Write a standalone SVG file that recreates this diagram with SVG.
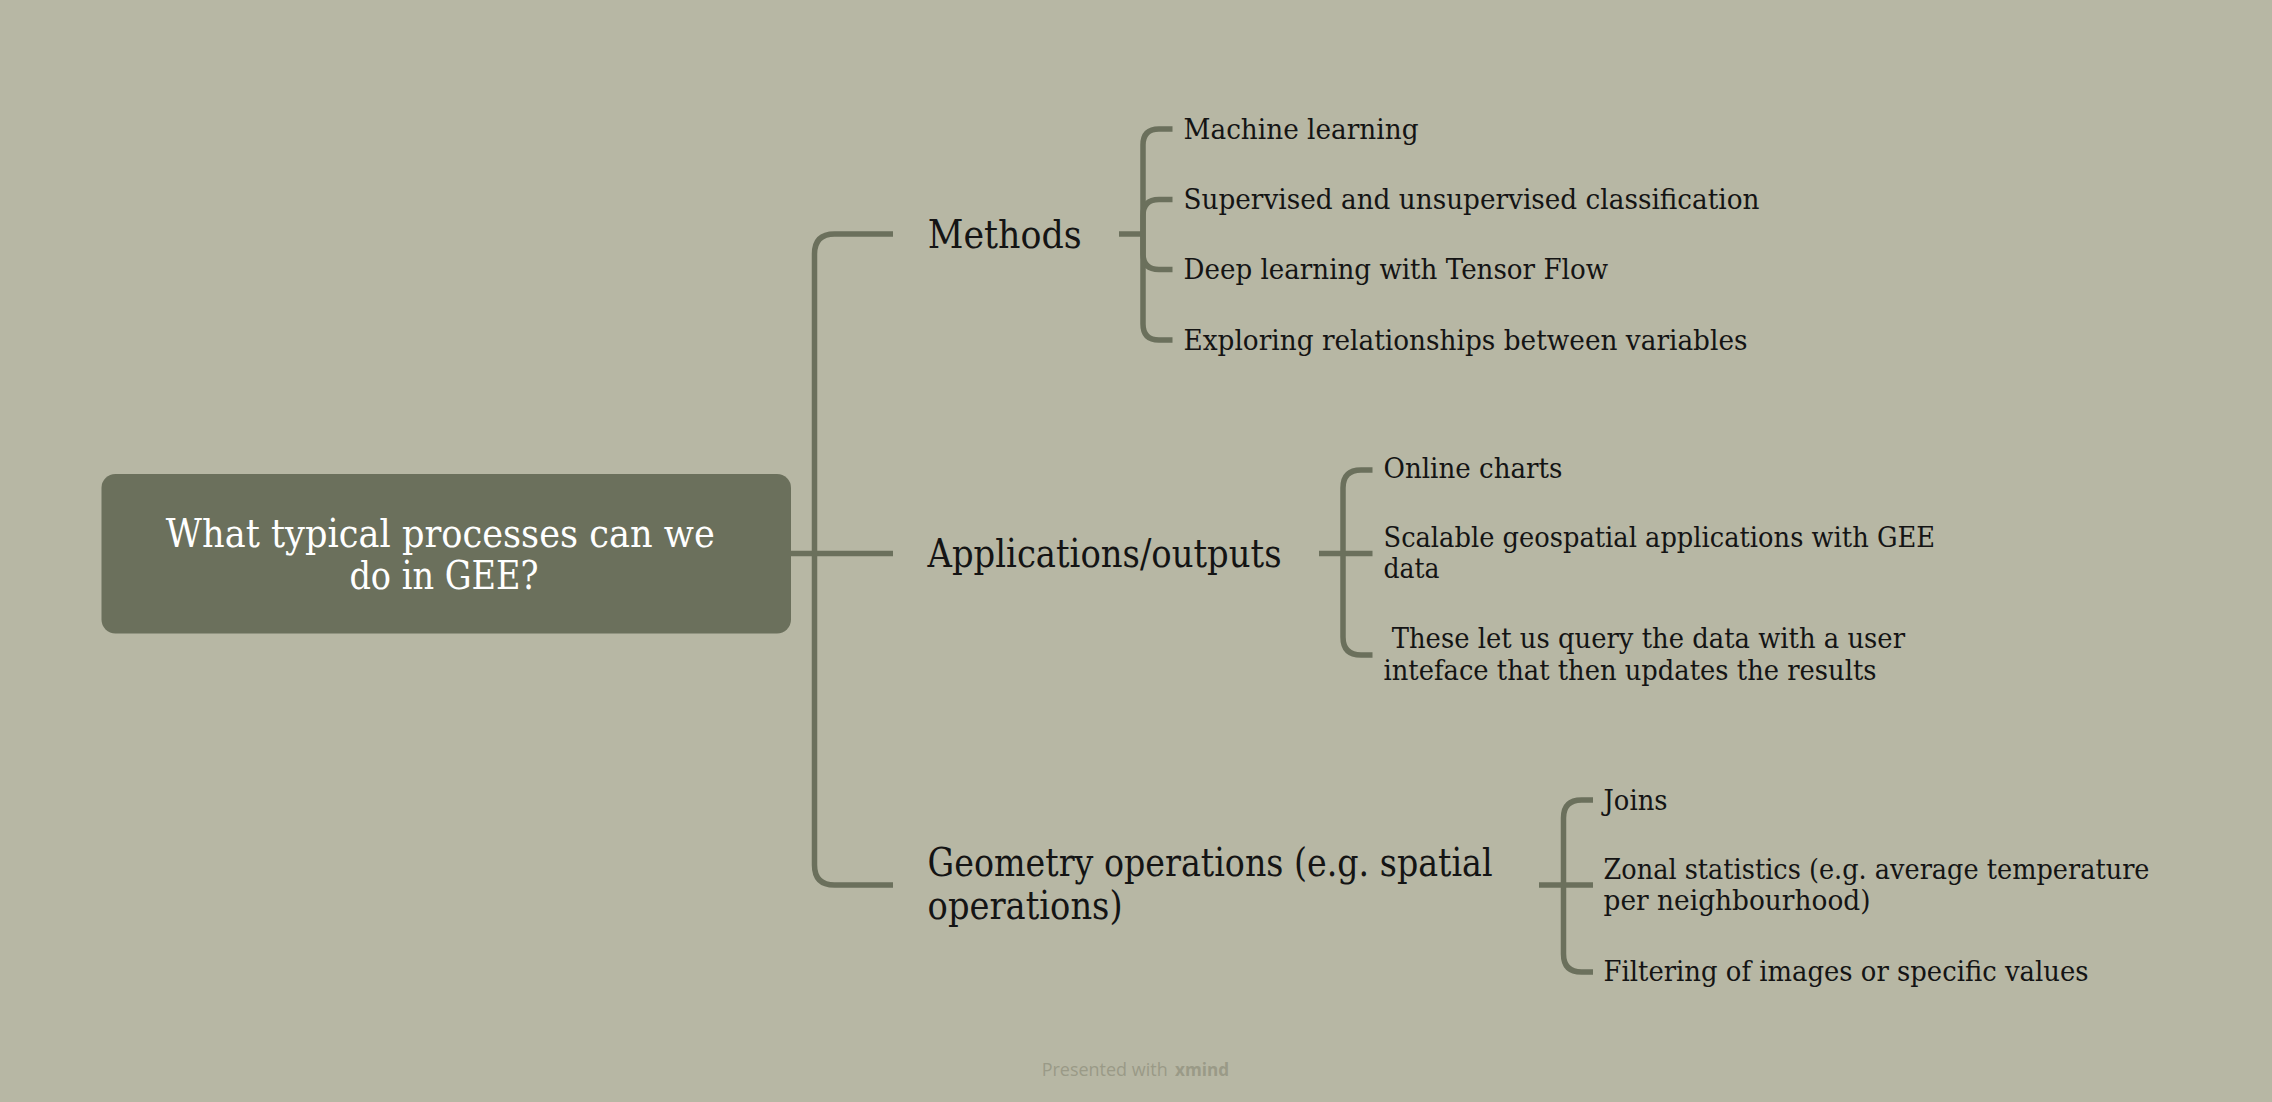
<svg xmlns="http://www.w3.org/2000/svg" width="2272" height="1102" viewBox="0 0 2272 1102">
<style>
.bg{fill:#b7b7a4}
.conn path{fill:none;stroke:#6b705c;stroke-width:5.5;stroke-linecap:butt;stroke-linejoin:round}
.t{font-family:"DejaVu Serif","Liberation Serif",serif;fill:#141414}
.main{font-size:38.5px}
.sub{font-size:28px}
.central-box{fill:#6b705c}
.central-text{font-family:"DejaVu Serif","Liberation Serif",serif;font-size:38.5px;fill:#ffffff}
.footer{font-family:"Open Sans","Liberation Sans",sans-serif;font-size:18px;fill:#9a9a87}
</style>
<rect class="bg" x="0" y="0" width="2272" height="1102"/>

<g id="connectors" class="conn">
  <!-- central to main topics -->
  <path d="M 791 553.5 H 893"/>
  <path d="M 814.5 553.5 V 254 Q 814.5 234 834.5 234 H 893"/>
  <path d="M 814.5 553.5 V 865 Q 814.5 885 834.5 885 H 893"/>
  <!-- Methods -->
  <path d="M 1119 234 H 1143"/>
  <path d="M 1143 234 V 145 Q 1143 129 1159 129 H 1172.5"/>
  <path d="M 1143 234 V 215.5 Q 1143 199.5 1159 199.5 H 1172.5"/>
  <path d="M 1143 234 V 253.5 Q 1143 269.5 1159 269.5 H 1172.5"/>
  <path d="M 1143 234 V 324 Q 1143 340 1159 340 H 1172.5"/>
  <!-- Applications -->
  <path d="M 1319 553.5 H 1372.5"/>
  <path d="M 1343 553.5 V 488 Q 1343 470 1361 470 H 1372.5"/>
  <path d="M 1343 553.5 V 637 Q 1343 655 1361 655 H 1372.5"/>
  <!-- Geometry -->
  <path d="M 1539 885 H 1593"/>
  <path d="M 1563.5 885 V 818 Q 1563.5 800 1581.5 800 H 1593"/>
  <path d="M 1563.5 885 V 954 Q 1563.5 972 1581.5 972 H 1593"/>
</g>

<g id="central">
  <rect class="central-box" x="101.5" y="474" width="689.5" height="159.5" rx="14" ry="14"/>
  <text class="central-text" x="165.8" y="547" textLength="549" lengthAdjust="spacingAndGlyphs">What typical processes can we</text>
  <text class="central-text" x="349.4" y="589" textLength="189" lengthAdjust="spacingAndGlyphs">do in GEE?</text>
</g>

<g id="methods">
  <text class="t main" x="927.7" y="248" textLength="154" lengthAdjust="spacingAndGlyphs">Methods</text>
</g>
<g id="machine-learning">
  <text class="t sub" x="1183.5" y="139" textLength="235" lengthAdjust="spacingAndGlyphs">Machine learning</text>
</g>
<g id="classification">
  <text class="t sub" x="1183.5" y="209" textLength="576" lengthAdjust="spacingAndGlyphs">Supervised and unsupervised classification</text>
</g>
<g id="deep-learning">
  <text class="t sub" x="1183.5" y="279" textLength="424.5" lengthAdjust="spacingAndGlyphs">Deep learning with Tensor Flow</text>
</g>
<g id="exploring">
  <text class="t sub" x="1183.5" y="349.5" textLength="564" lengthAdjust="spacingAndGlyphs">Exploring relationships between variables</text>
</g>

<g id="applications">
  <text class="t main" x="927.5" y="566.5" textLength="354" lengthAdjust="spacingAndGlyphs">Applications/outputs</text>
</g>
<g id="online-charts">
  <text class="t sub" x="1383.5" y="478" textLength="179" lengthAdjust="spacingAndGlyphs">Online charts</text>
</g>
<g id="scalable">
  <text class="t sub" x="1383.5" y="547" textLength="551.5" lengthAdjust="spacingAndGlyphs">Scalable geospatial applications with GEE</text>
  <text class="t sub" x="1383.5" y="578" textLength="56" lengthAdjust="spacingAndGlyphs">data</text>
</g>
<g id="these-let-us">
  <text class="t sub" x="1383.5" y="648" xml:space="preserve" textLength="521.5" lengthAdjust="spacingAndGlyphs"> These let us query the data with a user</text>
  <text class="t sub" x="1383.5" y="679.5" textLength="493" lengthAdjust="spacingAndGlyphs">inteface that then updates the results</text>
</g>

<g id="geometry">
  <text class="t main" x="927.6" y="876" textLength="565" lengthAdjust="spacingAndGlyphs">Geometry operations (e.g. spatial</text>
  <text class="t main" x="927.6" y="918.5" textLength="195" lengthAdjust="spacingAndGlyphs">operations)</text>
</g>
<g id="joins">
  <text class="t sub" x="1603.5" y="809.5" textLength="64" lengthAdjust="spacingAndGlyphs">Joins</text>
</g>
<g id="zonal">
  <text class="t sub" x="1603.5" y="878.5" textLength="546" lengthAdjust="spacingAndGlyphs">Zonal statistics (e.g. average temperature</text>
  <text class="t sub" x="1603.5" y="909.5" textLength="267" lengthAdjust="spacingAndGlyphs">per neighbourhood)</text>
</g>
<g id="filtering">
  <text class="t sub" x="1603.5" y="981" textLength="485" lengthAdjust="spacingAndGlyphs">Filtering of images or specific values</text>
</g>

<g id="footer">
  <text class="footer" x="1041.7" y="1076" textLength="126" lengthAdjust="spacingAndGlyphs">Presented with</text>
  <text class="footer" x="1175" y="1076" font-weight="bold" fill="#8f8f7c" textLength="54" lengthAdjust="spacingAndGlyphs">xmind</text>
</g>
</svg>
